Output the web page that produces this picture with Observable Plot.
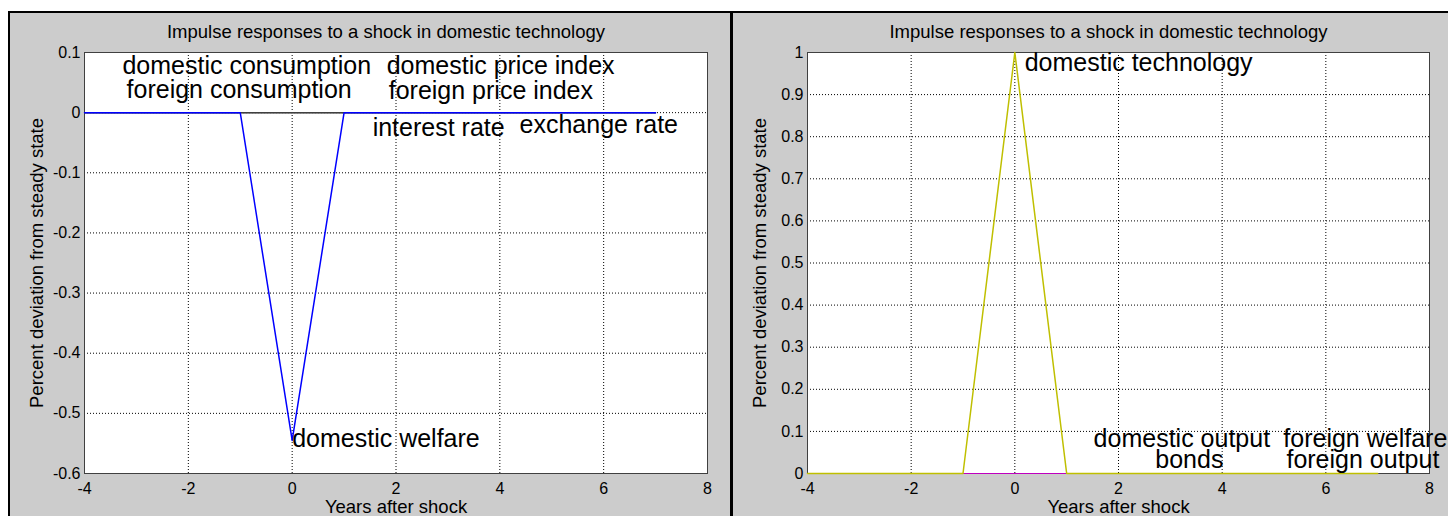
<!DOCTYPE html>
<html><head><meta charset="utf-8">
<script src="https://cdn.jsdelivr.net/npm/d3@7"></script>
<script src="https://cdn.jsdelivr.net/npm/@observablehq/plot@0.6"></script>
<style>
html,body{margin:0;padding:0;background:#fff;}
#fig{position:relative;width:1448px;height:516px;overflow:hidden;background:#fff;}
#panel{position:absolute;left:8px;top:11px;width:1440px;height:505px;background:#cccccc;border-top:2px solid #000;border-left:2px solid #000;box-sizing:border-box;}
#divider{position:absolute;left:730px;top:11px;width:3px;height:505px;background:#000;}
#left,#right{position:absolute;top:13px;height:503px;}
#left{left:10px;width:720px;}
#right{left:733px;width:715px;}
#fig svg g[aria-label*="axis"] text{font-family:'Liberation Sans Narrow','Liberation Sans',Arial,sans-serif;font-size:16px;}
</style>
</head><body>
<div id="fig"><div id="panel"></div><div id="divider"></div><div id="left"></div><div id="right"></div></div>
<script>
// ---------- data ----------
const years = [-4, -3, -2, -1, 0, 1, 2, 3, 4, 5, 6, 7];
const xTicks = [-4, -2, 0, 2, 4, 6, 8];
const yTicksLeft = [-0.6, -0.5, -0.4, -0.3, -0.2, -0.1, 0, 0.1];
const yTicksRight = [0, 0.1, 0.2, 0.3, 0.4, 0.5, 0.6, 0.7, 0.8, 0.9, 1];

const titleText = "Impulse responses to a shock in domestic technology";
const xLabel = "Years after shock";
const yLabel = "Percent deviation from steady state";

// left panel series (drawn in this order)
const leftNames = ["domestic consumption", "foreign consumption", "domestic price index", "foreign price index", "interest rate", "exchange rate", "domestic welfare"];
const leftColors = ["#404040", "#404040", "#404040", "#404040", "#404040", "#404040", "#0000ff"];
const domesticConsumption = [0, 0, 0, 0, 0, 0, 0, 0, 0, 0, 0, 0];
const foreignConsumption  = [0, 0, 0, 0, 0, 0, 0, 0, 0, 0, 0, 0];
const domesticPriceIndex  = [0, 0, 0, 0, 0, 0, 0, 0, 0, 0, 0, 0];
const foreignPriceIndex   = [0, 0, 0, 0, 0, 0, 0, 0, 0, 0, 0, 0];
const interestRate        = [0, 0, 0, 0, 0, 0, 0, 0, 0, 0, 0, 0];
const exchangeRate        = [0, 0, 0, 0, 0, 0, 0, 0, 0, 0, 0, 0];
const domesticWelfare     = [0, 0, 0, 0, -0.545, 0, 0, 0, 0, 0, 0, 0];
const leftValues = [domesticConsumption, foreignConsumption, domesticPriceIndex, foreignPriceIndex, interestRate, exchangeRate, domesticWelfare];

// left panel label positions (data coordinates)
const leftLabelText = ["domestic consumption", "foreign consumption", "domestic price index", "foreign price index", "interest rate", "exchange rate", "domestic welfare"];
const leftLabelX = [-3.27, -3.19, 1.82, 1.86, 1.55, 4.38, 0];
const leftLabelY = [0.078, 0.038, 0.078, 0.036, -0.025, -0.020, -0.543];

// right panel series
const rightNames = ["domestic output", "bonds", "foreign welfare", "foreign output", "domestic technology"];
const rightColors = ["#bf00bf", "#bf00bf", "#bf00bf", "#bf00bf", "#bfbf00"];
const domesticOutput     = [0, 0, 0, 0, 0, 0, 0, 0, 0, 0, 0, 0];
const bonds              = [0, 0, 0, 0, 0, 0, 0, 0, 0, 0, 0, 0];
const foreignWelfare     = [0, 0, 0, 0, 0, 0, 0, 0, 0, 0, 0, 0];
const foreignOutput      = [0, 0, 0, 0, 0, 0, 0, 0, 0, 0, 0, 0];
const domesticTechnology = [0, 0, 0, 0, 1, 0, 0, 0, 0, 0, 0, 0];
const rightValues = [domesticOutput, bonds, foreignWelfare, foreignOutput, domesticTechnology];

const rightLabelText = ["domestic technology", "domestic output", "bonds", "foreign welfare", "foreign output"];
const rightLabelX = [0.19, 1.52, 2.71, 5.18, 5.24];
const rightLabelY = [0.974, 0.081, 0.031, 0.081, 0.031];

// ---------- drawing ----------
const FONT = "'Liberation Sans', Arial, Helvetica, sans-serif";
const fmt = d => String(Math.round(d * 10) / 10);

function panel({width, marginRight, yDomain, yTicks, names, colors, values, labelText, labelX, labelY}) {
  const last = names.length - 1;
  const lines = names.map((n, i) => Plot.line(years.map((yr, j) => ({year: yr, value: values[i][j]})),
    {x: "year", y: "value", stroke: colors[i], strokeWidth: i === last ? 1.5 : 1}));
  const labels = labelText.map((t, i) => ({t, x: labelX[i], y: labelY[i]}));
  return Plot.plot({
    width, height: 503,
    marginLeft: 74, marginRight, marginTop: 39, marginBottom: 43,
    style: {background: "transparent", fontFamily: FONT, fontSize: "15px", color: "#000", overflow: "visible"},
    x: {domain: [-4, 8], ticks: xTicks, tickSize: 0, tickPadding: 9, tickFormat: fmt, label: null},
    y: {domain: yDomain, ticks: yTicks, tickSize: 0, tickPadding: 4, tickFormat: fmt, label: null},
    marks: [
      Plot.frame({fill: "white"}),
      Plot.ruleX(xTicks.slice(1, -1), {stroke: "#000", strokeWidth: 1, strokeDasharray: "1,2"}),
      Plot.ruleY(yTicks.slice(1, -1), {stroke: "#000", strokeWidth: 1, strokeDasharray: "1,2"}),
      Plot.frame({stroke: "#404040"}),
      ...lines,
      Plot.text(labels, {x: "x", y: "y", text: "t", textAnchor: "start", fontSize: 25, fontFamily: FONT, fill: "#000"}),
      Plot.text([titleText], {frameAnchor: "top", lineAnchor: "middle", textAnchor: "middle", dx: -10, dy: -20, fontSize: 18.5, fontFamily: FONT, fill: "#000"}),
      Plot.text([xLabel], {frameAnchor: "bottom", lineAnchor: "middle", textAnchor: "middle", dy: 34, fontSize: 18.5, fontFamily: FONT, fill: "#000"}),
      Plot.text([yLabel], {frameAnchor: "left", lineAnchor: "middle", textAnchor: "middle", rotate: -90, dx: -47, fontSize: 18.5, fontFamily: FONT, fill: "#000"})
    ]
  });
}

document.getElementById("left").appendChild(panel({
  width: 720, marginRight: 23, yDomain: [-0.6, 0.1], yTicks: yTicksLeft,
  names: leftNames, colors: leftColors, values: leftValues,
  labelText: leftLabelText, labelX: leftLabelX, labelY: leftLabelY
}));
document.getElementById("right").appendChild(panel({
  width: 715, marginRight: 19, yDomain: [0, 1], yTicks: yTicksRight,
  names: rightNames, colors: rightColors, values: rightValues,
  labelText: rightLabelText, labelX: rightLabelX, labelY: rightLabelY
}));
</script>
</body></html>
